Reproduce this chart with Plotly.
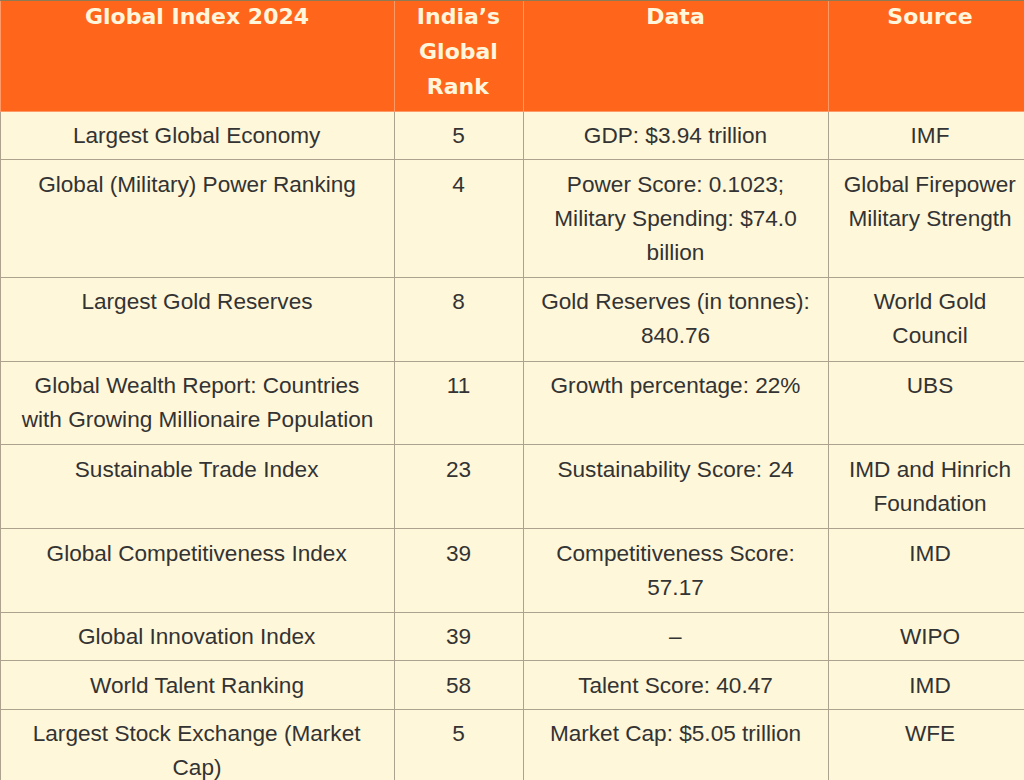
import plotly.graph_objects as go

# ---- data ----
headers = ["Global Index 2024", "India’s<br>Global<br>Rank", "Data", "Source"]
indices = [
    "Largest Global Economy",
    "Global (Military) Power Ranking",
    "Largest Gold Reserves",
    "Global Wealth Report: Countries<br>with Growing Millionaire Population",
    "Sustainable Trade Index",
    "Global Competitiveness Index",
    "Global Innovation Index",
    "World Talent Ranking",
    "Largest Stock Exchange (Market<br>Cap)",
]
ranks = [5, 4, 8, 11, 23, 39, 39, 58, 5]
data_text = [
    "GDP: $3.94 trillion",
    "Power Score: 0.1023;<br>Military Spending: $74.0<br>billion",
    "Gold Reserves (in tonnes):<br>840.76",
    "Growth percentage: 22%",
    "Sustainability Score: 24",
    "Competitiveness Score:<br>57.17",
    "–",
    "Talent Score: 40.47",
    "Market Cap: $5.05 trillion",
]
sources = [
    "IMF",
    "Global Firepower<br>Military Strength",
    "World Gold<br>Council",
    "UBS",
    "IMD and Hinrich<br>Foundation",
    "IMD",
    "WIPO",
    "IMD",
    "WFE",
]
col_widths = [394, 129, 305, 204]

# ---- styling ----
ORANGE = "#FF661C"
HEAD_TXT = "#FFF6DC"
CELL_BG = "#FFF7DA"
GRID = "#ADA28E"
HEAD_GRID = "#FF9A66"
TXT = "#333333"
BODY_PX = 22.6
HEAD_PX = 22
BODY_LS = 34 / 1.3   # text-element size giving ~34px line spacing
HEAD_LS = 35 / 1.3
NBSP = "\u00a0"


def spacer(px, shift):
    return f'<span style="font-size:{px}px;baseline-shift:{shift}px">{NBSP}</span>'


def fmt(text, px, bold=False, top_shift=None, bottom_shift=None):
    lines = str(text).split("<br>")
    out = []
    for i, ln in enumerate(lines):
        inner = f"<b>{ln}</b>" if bold else ln
        s = f'<span style="font-size:{px}px">{inner}</span>'
        if top_shift is not None and i == 0:
            s += spacer(px, top_shift)
        if bottom_shift is not None and len(lines) > 1 and i == len(lines) - 1:
            s += spacer(px, bottom_shift)
        out.append(s)
    res = "<br>".join(out)
    if len(lines) == 1:
        res += "<br>"
    return res


columns = [indices, [str(r) for r in ranks], data_text, sources]
cell_values = [[fmt(v, BODY_PX, top_shift=4, bottom_shift=-4.8) for v in col]
               for col in columns]
head_values = [fmt(h, HEAD_PX, bold=True, bottom_shift=-4) for h in headers]

fig = go.Figure(
    go.Table(
        columnwidth=col_widths,
        header=dict(
            values=head_values,
            fill_color=ORANGE,
            line=dict(color=HEAD_GRID, width=1),
            font=dict(family="DejaVu Sans", size=HEAD_LS, color=HEAD_TXT),
            align="center",
            height=48,
        ),
        cells=dict(
            values=cell_values,
            fill_color=CELL_BG,
            line=dict(color=GRID, width=1),
            font=dict(family="Liberation Sans, Arial", size=BODY_LS, color=TXT),
            align="center",
            height=48.5,
        ),
        domain=dict(x=[0, 1], y=[0, 1]),
    )
)
FIG_H = 820
fig.add_shape(type="line", xref="paper", yref="paper", x0=0, x1=1,
              y0=1 - 4.5 / FIG_H, y1=1 - 4.5 / FIG_H,
              layer="above", line=dict(color="#8E7A55", width=1))
fig.update_layout(width=1032, height=FIG_H, margin=dict(l=0, r=0, t=0, b=0),
                  paper_bgcolor=CELL_BG)

# centre each wrapped line inside its cell and drop the page margin
POST = """
function centreLines(){
  document.body.style.margin='-4px 0 0 0';
  document.body.style.overflow='hidden';
  document.querySelectorAll('g.column-cell').forEach(function(cell){
    var rect = cell.querySelector('rect.cell-rect');
    var text = cell.querySelector('text.cell-text');
    if(!rect || !text) return;
    var rb = rect.getBoundingClientRect();
    var cx = rb.left + rb.width/2;
    text.querySelectorAll('tspan.line').forEach(function(ln){
      var vis = ln.querySelector('tspan');
      if(!vis) return;
      var b = vis.getBoundingClientRect();
      if(!b.width) return;
      var cur = parseFloat(ln.getAttribute('x')) || 0;
      ln.setAttribute('x', cur + (cx - (b.left + b.width/2)));
    });
  });
}
centreLines();
setTimeout(centreLines, 300);
setTimeout(centreLines, 1200);
"""
fig.write_html("out.html", post_script=POST, config={"displayModeBar": False})
